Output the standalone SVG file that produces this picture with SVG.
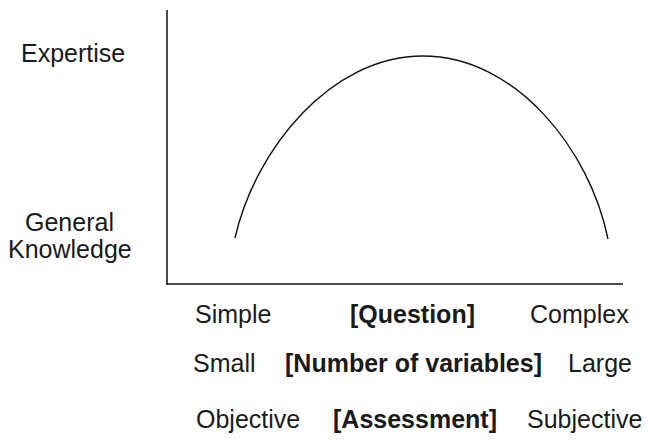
<svg xmlns="http://www.w3.org/2000/svg" width="646" height="444" viewBox="0 0 646 444">
<style>
text{font-family:"Liberation Sans",Arial,sans-serif;font-size:25px;fill:#1a1a1a}
.b{font-weight:bold}
.ax{stroke:#111;stroke-width:1.5;fill:none}
.cv{stroke:#111;stroke-width:1.4;fill:none}
</style>
<rect width="646" height="444" fill="#fff"/>
<g id="axes">
<line class="ax" x1="167" y1="10" x2="167" y2="284.5"/>
<line class="ax" x1="166.3" y1="284" x2="623" y2="284"/>
</g>
<g id="curve">
<path class="cv" d="M235,238 C255,150 330,56 423,56 C516,56 590,150 608,239"/>
</g>
<g id="y-labels">
<text x="21" y="62">Expertise</text>
<text x="25" y="231">General</text>
<text x="8" y="258">Knowledge</text>
</g>
<g id="row-question">
<text x="195" y="323">Simple</text>
<text class="b" x="350" y="323">[Question]</text>
<text x="530" y="323">Complex</text>
</g>
<g id="row-variables">
<text x="193" y="372">Small</text>
<text class="b" x="285" y="372">[Number of variables]</text>
<text x="568" y="372">Large</text>
</g>
<g id="row-assessment">
<text x="196" y="428">Objective</text>
<text class="b" x="333" y="428">[Assessment]</text>
<text x="527" y="428">Subjective</text>
</g>
</svg>
